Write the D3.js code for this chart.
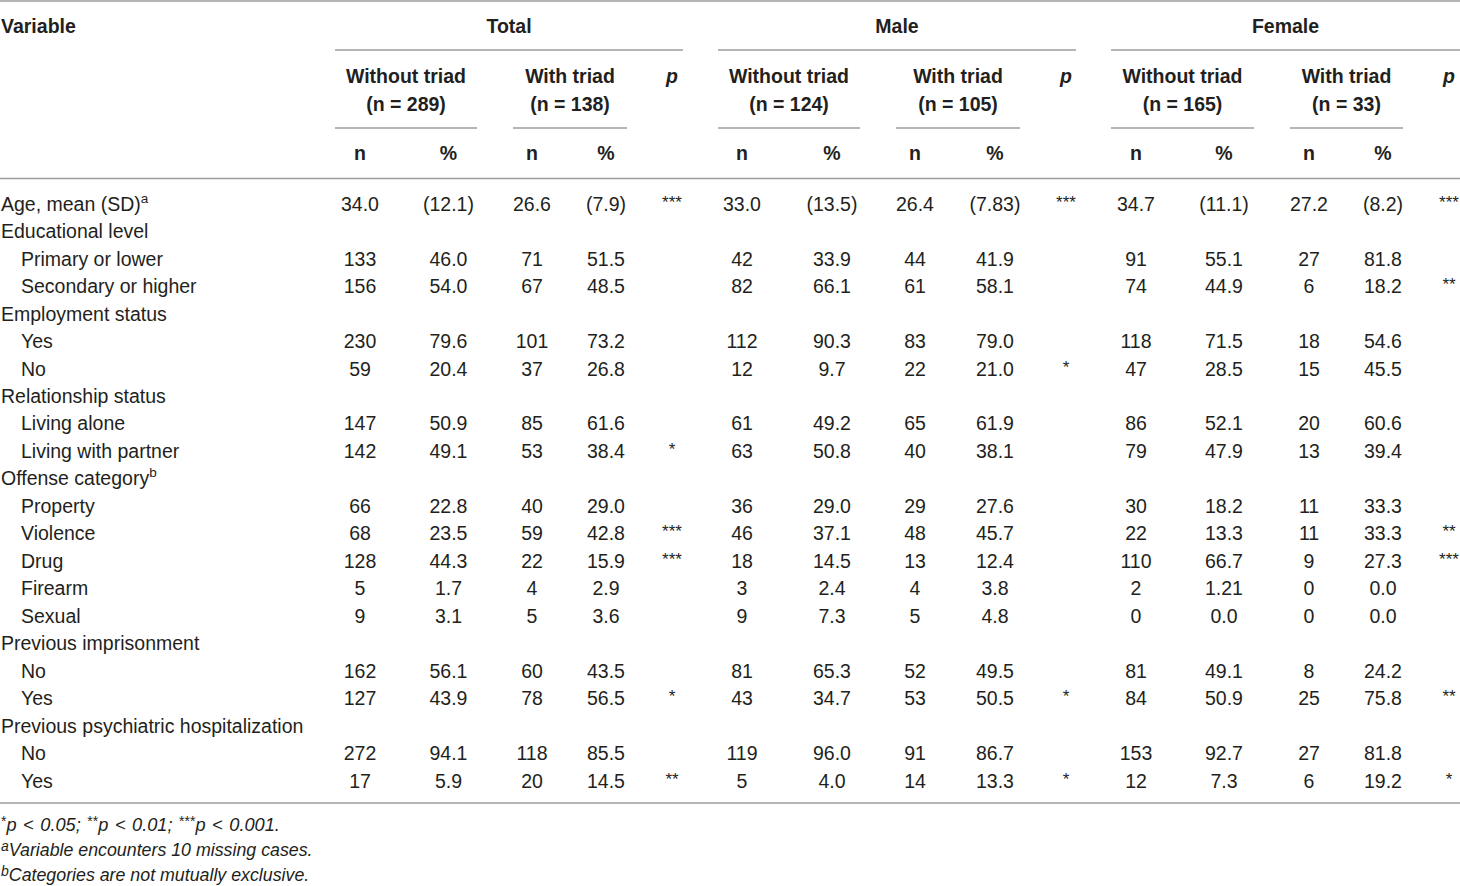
<!DOCTYPE html>
<html><head><meta charset="utf-8">
<script src="https://cdn.jsdelivr.net/npm/d3@7"></script>
<style>
html,body{margin:0;padding:0;background:#fff;}
svg{display:block;font-family:"Liberation Sans",Arial,Helvetica,sans-serif;}
</style></head>
<body><svg id="c" width="1460" height="886"></svg>
<script>
// ---------- data ----------
const rowLabels = ["Age, mean (SD)","Educational level","Primary or lower","Secondary or higher","Employment status","Yes","No","Relationship status","Living alone","Living with partner","Offense category","Property","Violence","Drug","Firearm","Sexual","Previous imprisonment","No","Yes","Previous psychiatric hospitalization","No","Yes"];
const rowIndent = [0,0,1,1,0,1,1,0,1,1,0,1,1,1,1,1,0,1,1,0,1,1];
const rowSup = ["a","","","","","","","","","","b","","","","","","","","","","",""];

const groups = ["Total","Male","Female"];
const groupSizesWithout = [289,124,165];
const groupSizesWith = [138,105,33];

const totalWithoutN   = ["34.0","","133","156","","230","59","","147","142","","66","68","128","5","9","","162","127","","272","17"];
const totalWithoutPct = ["(12.1)","","46.0","54.0","","79.6","20.4","","50.9","49.1","","22.8","23.5","44.3","1.7","3.1","","56.1","43.9","","94.1","5.9"];
const totalWithN      = ["26.6","","71","67","","101","37","","85","53","","40","59","22","4","5","","60","78","","118","20"];
const totalWithPct    = ["(7.9)","","51.5","48.5","","73.2","26.8","","61.6","38.4","","29.0","42.8","15.9","2.9","3.6","","43.5","56.5","","85.5","14.5"];
const totalP          = ["***","","","","","","","","","*","","","***","***","","","","","*","","","**"];

const maleWithoutN    = ["33.0","","42","82","","112","12","","61","63","","36","46","18","3","9","","81","43","","119","5"];
const maleWithoutPct  = ["(13.5)","","33.9","66.1","","90.3","9.7","","49.2","50.8","","29.0","37.1","14.5","2.4","7.3","","65.3","34.7","","96.0","4.0"];
const maleWithN       = ["26.4","","44","61","","83","22","","65","40","","29","48","13","4","5","","52","53","","91","14"];
const maleWithPct     = ["(7.83)","","41.9","58.1","","79.0","21.0","","61.9","38.1","","27.6","45.7","12.4","3.8","4.8","","49.5","50.5","","86.7","13.3"];
const maleP           = ["***","","","","","","*","","","","","","","","","","","","*","","","*"];

const femaleWithoutN  = ["34.7","","91","74","","118","47","","86","79","","30","22","110","2","0","","81","84","","153","12"];
const femaleWithoutPct= ["(11.1)","","55.1","44.9","","71.5","28.5","","52.1","47.9","","18.2","13.3","66.7","1.21","0.0","","49.1","50.9","","92.7","7.3"];
const femaleWithN     = ["27.2","","27","6","","18","15","","20","13","","11","11","9","0","0","","8","25","","27","6"];
const femaleWithPct   = ["(8.2)","","81.8","18.2","","54.6","45.5","","60.6","39.4","","33.3","33.3","27.3","0.0","0.0","","24.2","75.8","","81.8","19.2"];
const femaleP         = ["***","","","**","","","","","","","","","**","***","","","","","**","","","*"];

const groupColumns = [
  [totalWithoutN,totalWithoutPct,totalWithN,totalWithPct,totalP],
  [maleWithoutN,maleWithoutPct,maleWithN,maleWithPct,maleP],
  [femaleWithoutN,femaleWithoutPct,femaleWithN,femaleWithPct,femaleP]
];
const footnotes = [
  [["*","sup"],["p < 0.05; ",""],["**","sup"],["p < 0.01; ",""],["***","sup"],["p < 0.001.",""]],
  [["a","sup"],["Variable encounters 10 missing cases.",""]],
  [["b","sup"],["Categories are not mutually exclusive.",""]]
];

// ---------- layout ----------
const svg = d3.select("#c");
const ink = "#231f20";
const rule = "#9d9d9d";
const fs = 19.5;

const groupX = d3.scaleOrdinal().domain(groups).range([335,718,1111]);
const groupW = d3.scaleOrdinal().domain(groups).range([348,358,349]);
const colOffsets = [
  [25,113.5,197,271,337],
  [24,114,197,277,348],
  [25,113,198,272,338]
];
const subRules = [
  [[0,142],[178,292]],
  [[0,142],[178,302]],
  [[0,143],[179,292]]
];

const y = d3.scaleLinear().domain([0, rowLabels.length-1]).range([210.7, 787.5]);

const hl = (x1,x2,yy)=>svg.append("line").attr("x1",x1).attr("x2",x2).attr("y1",yy).attr("y2",yy)
  .attr("stroke",rule).attr("stroke-width",1.4);
hl(0,1460,1);
hl(0,1460,178.5);
hl(0,1460,803);

svg.append("text").attr("x",1).attr("y",32.5).attr("font-size",fs).attr("font-weight","bold").attr("fill",ink).text("Variable");

groups.forEach((g,gi)=>{
  const gx = groupX(g), gw = groupW(g);
  svg.append("text").attr("x",gx+gw/2).attr("y",32.5).attr("text-anchor","middle")
    .attr("font-size",fs).attr("font-weight","bold").attr("fill",ink).text(g);
  hl(gx, Math.min(gx+gw,1460), 50);
  const sizes = [groupSizesWithout[gi], groupSizesWith[gi]];
  ["Without triad","With triad"].forEach((lab,si)=>{
    const r = subRules[gi][si];
    const cx = gx + (r[0]+r[1])/2;
    svg.append("text").attr("x",cx).attr("y",83).attr("text-anchor","middle")
      .attr("font-size",fs).attr("font-weight","bold").attr("fill",ink).text(lab);
    svg.append("text").attr("x",cx).attr("y",111).attr("text-anchor","middle")
      .attr("font-size",fs).attr("font-weight","bold").attr("fill",ink).text("(n = "+sizes[si]+")");
    hl(gx+r[0], gx+r[1], 128);
  });
  svg.append("text").attr("x",gx+colOffsets[gi][4]).attr("y",83).attr("text-anchor","middle")
    .attr("font-size",fs).attr("font-weight","bold").attr("font-style","italic").attr("fill",ink).text("p");
  ["n","%","n","%"].forEach((lab,ci)=>{
    svg.append("text").attr("x",gx+colOffsets[gi][ci]).attr("y",160).attr("text-anchor","middle")
      .attr("font-size",fs).attr("font-weight","bold").attr("fill",ink).text(lab);
  });
});

const lab = svg.append("g").selectAll("text").data(rowLabels).join("text")
  .attr("x",(d,i)=>rowIndent[i]?21:1)
  .attr("y",(d,i)=>y(i))
  .attr("font-size",fs).attr("fill",ink);
lab.append("tspan").text(d=>d);
lab.append("tspan").attr("font-size",13.5).attr("dy",-8).text((d,i)=>rowSup[i]);

groups.forEach((g,gi)=>{
  const gx = groupX(g);
  groupColumns[gi].forEach((col,ci)=>{
    const isP = ci===4;
    svg.append("g").selectAll("text").data(col).join("text")
      .attr("x",gx+colOffsets[gi][ci])
      .attr("y",(d,i)=>y(i)-(isP?3:0))
      .attr("text-anchor","middle")
      .attr("font-size",isP?17:fs)
      .attr("fill",ink)
      .text(d=>d);
  });
});

const fy = d3.scaleLinear().domain([0,2]).range([830.5,881]);
footnotes.forEach((parts,i)=>{
  const t = svg.append("text").attr("x",1).attr("y",fy(i)).attr("font-size",i===0?18.2:17.8)
    .attr("font-style","italic").attr("fill",ink).attr("word-spacing",i===0?1.5:0);
  parts.forEach(p=>{
    const sp = t.append("tspan").text(p[0]);
    if(p[1]==="sup") sp.attr("font-size",14).attr("baseline-shift","38%").attr("font-style", p[0].startsWith("*")?"normal":"italic");
  });
});
</script></body></html>
